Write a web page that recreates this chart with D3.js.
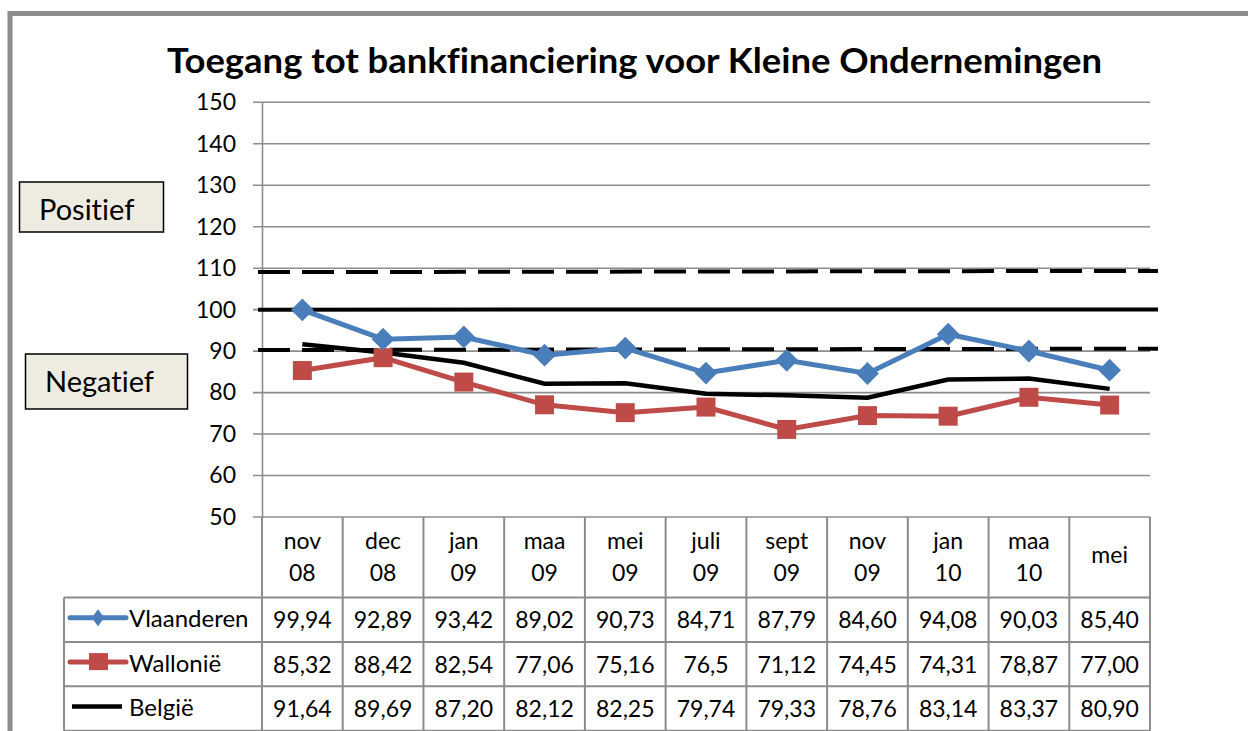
<!DOCTYPE html>
<html>
<head>
<meta charset="utf-8">
<script src="https://cdnjs.cloudflare.com/ajax/libs/d3/7.8.5/d3.min.js"></script>
<style>
  body { margin: 0; background: #fff; }
  svg { display: block; font-family: Lato, "Open Sans", sans-serif; font-variant-ligatures: none; }
</style>
</head>
<body>
<div id="chart"></div>
<script>
// data
var categories = ["nov 08", "dec 08", "jan 09", "maa 09", "mei 09", "juli 09", "sept 09", "nov 09", "jan 10", "maa 10", "mei"];
var vlaanderen = ["99,94", "92,89", "93,42", "89,02", "90,73", "84,71", "87,79", "84,60", "94,08", "90,03", "85,40"];
var wallonie   = ["85,32", "88,42", "82,54", "77,06", "75,16", "76,5", "71,12", "74,45", "74,31", "78,87", "77,00"];
var belgie     = ["91,64", "89,69", "87,20", "82,12", "82,25", "79,74", "79,33", "78,76", "83,14", "83,37", "80,90"];
var yTicks = [50, 60, 70, 80, 90, 100, 110, 120, 130, 140, 150];
// hand drawn reference lines (value at left end, value at right end)
var refStart = [109.05, 100, 90.25];
var refEnd   = [109.35, 100.05, 90.6];
var refDashed = [true, false, true];

var W = 1248, H = 731;
var plotL = 262, plotR = 1150, plotT = 102.3, plotB = 517;
var rowH = 44.4, headH = 80.5, legendLeft = 64;
var gridColor = "#8c8c8c";

function num(s) { return +s.replace(",", "."); }

var series = [
  { name: "Vlaanderen", vals: vlaanderen, color: "#4a7ebb", width: 5, marker: "diamond" },
  { name: "Wallonië", vals: wallonie, color: "#be4b48", width: 5, marker: "square" },
  { name: "België", vals: belgie, color: "#000", width: 4.5, marker: null }
];

var svg = d3.select("#chart").append("svg")
  .attr("width", W).attr("height", H);

// outer frame (cut off on the right and bottom)
svg.append("rect")
  .attr("x", 10).attr("y", 13.5)
  .attr("width", W + 20).attr("height", H + 20)
  .attr("fill", "#fff").attr("stroke", "#8c8c8c").attr("stroke-width", 5);

svg.append("text")
  .attr("x", 634.5).attr("y", 72.5)
  .attr("text-anchor", "middle")
  .attr("font-size", 35).attr("font-weight", "bold")
  .attr("textLength", 935).attr("lengthAdjust", "spacingAndGlyphs")
  .text("Toegang tot bankfinanciering voor Kleine Ondernemingen");

var x = d3.scaleBand().domain(categories).range([plotL, plotR]);
var y = d3.scaleLinear().domain([50, 150]).range([plotB, plotT]);
var cx = function(c) { return x(c) + x.bandwidth() / 2; };

// grid
svg.append("g").selectAll("line").data(yTicks).enter().append("line")
  .attr("x1", plotL - 9).attr("x2", plotR)
  .attr("y1", function(d) { return y(d); }).attr("y2", function(d) { return y(d); })
  .attr("stroke", gridColor).attr("stroke-width", 1.6);

var yAxis = svg.append("g")
  .attr("transform", "translate(" + plotL + ",0)")
  .call(d3.axisLeft(y).tickValues(yTicks).tickSize(0).tickPadding(26));
yAxis.select(".domain").attr("stroke", gridColor).attr("stroke-width", 1.6);
yAxis.selectAll("text").attr("font-size", 23).attr("fill", "#000")
  .attr("font-family", "Lato, sans-serif");

// reference lines
svg.append("g").selectAll("line").data(refStart).enter().append("line")
  .attr("x1", plotL - 4).attr("x2", plotR + 8)
  .attr("y1", function(d) { return y(d); })
  .attr("y2", function(d, i) { return y(refEnd[i]); })
  .attr("stroke", "#000").attr("stroke-width", 4)
  .attr("stroke-dasharray", function(d, i) { return refDashed[i] ? "32,12" : null; });

// series lines
var line = d3.line()
  .x(function(d, i) { return cx(categories[i]); })
  .y(function(d) { return y(num(d)); });

// black first, then red, then blue on top
[series[2], series[1], series[0]].forEach(function(s) {
  svg.append("path").datum(s.vals)
    .attr("d", line).attr("fill", "none")
    .attr("stroke", s.color).attr("stroke-width", s.width)
    .attr("stroke-linejoin", "miter");
  if (s.marker) {
    var sym = d3.symbol().type(d3.symbolSquare)
      .size(s.marker === "diamond" ? 260 : 360);
    svg.append("g").selectAll("path").data(s.vals).enter().append("path")
      .attr("d", sym)
      .attr("transform", function(d, i) {
        return "translate(" + cx(categories[i]) + "," + y(num(d)) + ")" + (s.marker === "diamond" ? " rotate(45)" : "");
      })
      .attr("fill", s.color);
  }
});

// data table
var tbl = svg.append("g");
var tableBottom = plotB + headH + rowH * 3;
var colEdges = x.domain().map(function(c) { return x(c); }).concat([plotR]);
tbl.selectAll("line.v").data(colEdges).enter().append("line")
  .attr("x1", function(d) { return d; }).attr("x2", function(d) { return d; })
  .attr("y1", plotB).attr("y2", tableBottom)
  .attr("stroke", gridColor).attr("stroke-width", 2);
tbl.append("line")
  .attr("x1", legendLeft).attr("x2", legendLeft)
  .attr("y1", plotB + headH).attr("y2", tableBottom)
  .attr("stroke", gridColor).attr("stroke-width", 2);
tbl.selectAll("line.h").data([0, 1, 2, 3]).enter().append("line")
  .attr("x1", legendLeft).attr("x2", plotR)
  .attr("y1", function(d) { return plotB + headH + d * rowH; })
  .attr("y2", function(d) { return plotB + headH + d * rowH; })
  .attr("stroke", gridColor).attr("stroke-width", 2);

// header labels
categories.forEach(function(c) {
  var parts = c.split(" ");
  var t = tbl.append("text")
    .attr("text-anchor", "middle")
    .attr("font-size", 23);
  if (parts.length === 1) {
    t.attr("x", cx(c)).attr("y", plotB + 46).text(parts[0]);
  } else {
    parts.forEach(function(p, k) {
      t.append("tspan").attr("x", cx(c)).attr("y", plotB + 31.5 + k * 32.5).text(p);
    });
  }
});

// rows
series.forEach(function(s, r) {
  var rowTop = plotB + headH + r * rowH;
  var my = rowTop + rowH / 2;
  s.vals.forEach(function(v, i) {
    tbl.append("text")
      .attr("x", cx(categories[i])).attr("y", my + 8.5)
      .attr("text-anchor", "middle").attr("font-size", 23)
      .text(v);
  });
  // legend key
  var kx0 = r === 2 ? 72 : 70, kx1 = r === 2 ? 122 : 126;
  tbl.append("line")
    .attr("x1", kx0).attr("x2", kx1).attr("y1", my - 2).attr("y2", my - 2)
    .attr("stroke", s.color).attr("stroke-width", s.width)
    .attr("stroke-linecap", r === 2 ? "butt" : "round");
  if (s.marker === "diamond") {
    tbl.append("path").attr("d", d3.symbol().type(d3.symbolSquare).size(110))
      .attr("transform", "translate(98," + (my - 2) + ") scale(0.85,1.15) rotate(45)")
      .attr("fill", s.color);
  } else if (s.marker === "square") {
    tbl.append("rect").attr("x", 89).attr("y", my - 11).attr("width", 19).attr("height", 17)
      .attr("fill", s.color);
  }
  tbl.append("text")
    .attr("x", 129).attr("y", my + 7.5)
    .attr("font-size", 24)
    .text(s.name);
});

// annotation boxes
var boxes = [
  { label: "Positief", x: 19.5, y: 182, w: 144, h: 50, tx: 39, ty: 220 },
  { label: "Negatief", x: 25.5, y: 354, w: 162, h: 55, tx: 45, ty: 392 }
];
boxes.forEach(function(b) {
  svg.append("rect").attr("x", b.x).attr("y", b.y).attr("width", b.w).attr("height", b.h)
    .attr("fill", "#eeece1").attr("stroke", "#000").attr("stroke-width", 1.5);
  svg.append("text").attr("x", b.tx).attr("y", b.ty)
    .attr("font-size", 29).text(b.label);
});
</script>
</body>
</html>
